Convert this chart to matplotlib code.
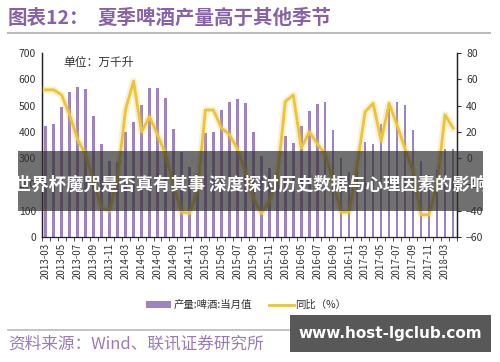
import matplotlib
matplotlib.use("Agg")
import matplotlib.pyplot as plt
import numpy as np
from matplotlib.patches import Rectangle, Patch
from matplotlib.lines import Line2D

plt.rcParams["font.family"] = ["Noto Sans CJK SC", "DejaVu Sans"]

# months: Mar-Dec each year (Jan/Feb merged), plus 2018-03/04
months = [f"{y}-{m:02d}" for y in range(2013, 2018) for m in range(3, 13)] + ["2018-03", "2018-04"]

output = [
    422, 429, 494, 553, 572, 564, 460, 354, 289, 285,
    398, 436, 502, 567, 566, 530, 411, 322, 268, 238,
    394, 398, 484, 512, 525, 508, 398, 308, 264, 246,
    384, 356, 422, 479, 506, 515, 407, 299, 248, 274,
    360, 354, 429, 502, 512, 502, 406, 290, 236, 255,
    335, 335,
]
yoy = [
    52, 52, 48, 33, 14, 3, -18, -38, -40, -15,
    37, 58.5, 20, 31.5, 18, 3, -20, -41, -42, -25,
    36.6, 36.6, 23, 18, 7, -10, -30, -42, -33, -15,
    43, 48, 7.5, 20, 11, 3, -18, -41, -41, -5,
    35.3, 41.7, 13, 41.7, 25, 7, -10, -43, -43, -20,
    33, 23,
]

BAR_C = "#9e82c2"
LINE_C = "#ebc43a"
PURPLE = "#8762a9"

fig = plt.figure(figsize=(5, 3.62), dpi=100)
ax = fig.add_axes([0.0834, 0.3453, 0.8306, 0.5083])
ax2 = ax.twinx()

x = np.arange(len(months))
ax.bar(x, output, width=0.32, color=BAR_C, zorder=2)
ax2.plot(x, yoy, color=LINE_C, lw=5, alpha=0.25, solid_joinstyle="round", zorder=3)
ax2.plot(x, yoy, color=LINE_C, lw=2, solid_joinstyle="round", zorder=4)

ax.set_xlim(-0.5, len(months) - 0.5)
ax.set_ylim(0, 700)
ax.set_yticks(range(0, 701, 100))
ax2.set_ylim(-60, 80)
ax2.set_yticks(range(-60, 81, 20))

ax.set_xticks(x[::2])
ax.set_xticklabels(months[::2], rotation=90, fontsize=7, color="#333333")
ax.set_xticks(np.arange(-0.5, len(months), 1), minor=True)
ax.tick_params(axis="x", which="major", length=0, pad=4)
ax.tick_params(axis="x", which="minor", length=3, color="#333333")
ax.tick_params(axis="y", length=0, labelsize=7.5, labelcolor="#333333", pad=4)
ax2.tick_params(axis="y", length=3, labelsize=7.5, labelcolor="#333333", color="#333333")

for a in (ax, ax2):
    a.spines["top"].set_visible(False)
    for s in ("left", "right", "bottom"):
        a.spines[s].set_color("#222222")
        a.spines[s].set_linewidth(0.9)
ax2.spines["bottom"].set_visible(False)

ax.text(0.052, 0.93, "单位：万千升", transform=ax.transAxes, fontsize=8.5, color="#333333")

# title
fig.text(0.016, 0.950, "图表12：", fontsize=14, fontweight="bold", color=PURPLE, va="center")
fig.text(0.194, 0.950, "夏季啤酒产量高于其他季节", fontsize=14, fontweight="bold", color=PURPLE, va="center")
fig.add_artist(Line2D([0.016, 0.98], [0.909, 0.909], color="#bbbbbb", lw=1.5))

# legend
handles = [
    Patch(facecolor=BAR_C, label="产量:啤酒:当月值"),
    Line2D([0], [0], color=LINE_C, lw=2, label="同比（%）"),
]
fig.legend(handles=handles, loc="center", bbox_to_anchor=(0.493, 0.157), ncol=2,
           frameon=False, fontsize=7.5, handlelength=2.4, handleheight=0.6,
           columnspacing=1.6, handletextpad=0.2, labelcolor="#333333")

# footer
fig.add_artist(Line2D([0.016, 0.98], [0.088, 0.088], color="#bbbbbb", lw=1.2))
fig.text(0.016, 0.050, "资料来源：Wind、联讯证券研究所", fontsize=12, color="#9a7bb5",
         style="italic", va="center")

# overlay banner
fig.add_artist(Rectangle((0.036, 0.417), 0.93, 0.166, transform=fig.transFigure,
                         facecolor="#333333", alpha=0.7, edgecolor="none", zorder=10))
fig.text(0.501, 0.489, "世界杯魔咒是否真有其事 深度探讨历史数据与心理因素的影响",
         fontsize=12.5, fontweight="bold", color="white", ha="center", va="center", zorder=11)

# watermark box
fig.add_artist(Rectangle((0.58, 0.0276), 0.402, 0.102, transform=fig.transFigure,
                         facecolor="#585858", edgecolor="none", zorder=10))
fig.text(0.781, 0.078, "www.host-lgclub.com", fontsize=11, fontweight="bold",
         color="white", ha="center", va="center", family=["DejaVu Sans"], zorder=11)

fig.savefig("out.png", dpi=100)
